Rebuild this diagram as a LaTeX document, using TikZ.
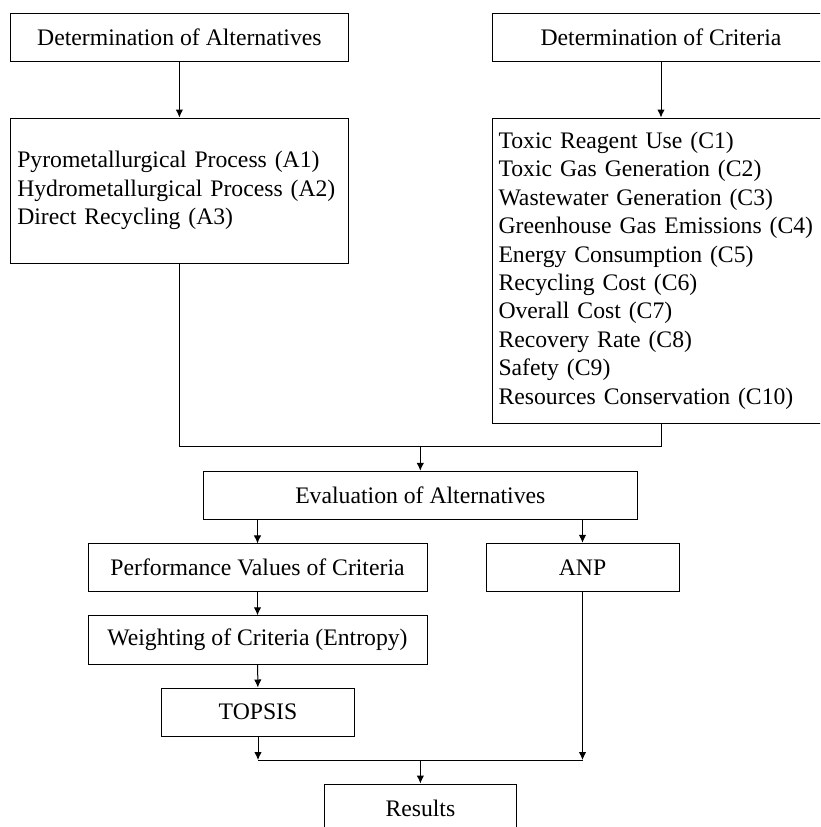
\documentclass[tikz,border=0pt]{standalone}
\usepackage{fontspec}
\setmainfont{Liberation Serif}
\usetikzlibrary{arrows.meta}
\begin{document}
\begin{tikzpicture}[x=1pt,y=-1pt]
			\tikzset{box/.style = {draw, line width=1pt, inner sep=0pt, align=center,
				font=\fontsize{23.7}{28.4}\selectfont}}
			\tikzset{listbox/.style = {box, align=left, inner xsep=6.5pt}}
			\tikzset{edge/.style = {->, > = {Latex[length=8pt,width=7.5pt]}, line width=1pt}}
			\tikzset{link/.style = {line width=1pt}}
			\useasboundingbox (0,0) rectangle (820,827);
			\clip (0,0) rectangle (820,827);
			% Draw the two inputs
			\node[box, minimum width=337.3pt, minimum height=48.4pt] (DetA) at (179.4,37.5) {Determination of Alternatives};
			\node[box, minimum width=338pt, minimum height=48.4pt] (DetC) at (661,37.5) {Determination of Criteria};
			\node[listbox, text width=324.3pt, minimum height=145pt] (Alt) at (179.4,190.5) {Pyrometallurgical Process (A1)\\Hydrometallurgical Process (A2)\\Direct Recycling (A3)};
			\node[listbox, text width=325pt, minimum height=305pt] (Crit) at (661,270.5) {Toxic Reagent Use (C1)\\Toxic Gas Generation (C2)\\Wastewater Generation (C3)\\Greenhouse Gas Emissions (C4)\\Energy Consumption (C5)\\Recycling Cost (C6)\\Overall Cost (C7)\\Recovery Rate (C8)\\Safety (C9)\\Resources Conservation (C10)};
			% Draw the evaluation steps
			\node[box, minimum width=434pt, minimum height=48pt] (Eval) at (420.3,495.3) {Evaluation of Alternatives};
			\node[box, minimum width=339pt, minimum height=47.7pt] (Perf) at (257.5,567.8) {Performance Values of Criteria};
			\node[box, minimum width=193pt, minimum height=48.4pt] (ANP) at (582.5,567.5) {ANP};
			\node[box, minimum width=339pt, minimum height=48.3pt] (Weight) at (257.5,639.9) {Weighting of Criteria (Entropy)};
			\node[box, minimum width=192.6pt, minimum height=48pt] (TOPSIS) at (258,712) {TOPSIS};
			\node[box, minimum width=192.7pt, minimum height=48pt] (Res) at (420.4,808) {Results};
			\coordinate (Join) at (420.3,446.7);
			\coordinate (Merge) at (420.4,760);
			\draw[edge] (DetA) to (Alt);
			\draw[edge] (DetC) to (Crit);
			\draw[link] (Alt.south) |- (Join) -| (Crit.south);
			\draw[edge] (Join) to (Eval);
			\draw[edge] (Eval.south -| Perf.north) to (Perf);
			\draw[edge] (Eval.south -| ANP.north) to (ANP);
			\draw[edge] (Perf) to (Weight);
			\draw[edge] (Weight) to (TOPSIS);
			\draw[edge] (TOPSIS) to (TOPSIS |- Merge);
			\draw[edge] (ANP) to (ANP |- Merge);
			\draw[link] (TOPSIS |- Merge) -- (ANP |- Merge);
			\draw[edge] (Merge) to (Res);
		\end{tikzpicture}
\end{document}
